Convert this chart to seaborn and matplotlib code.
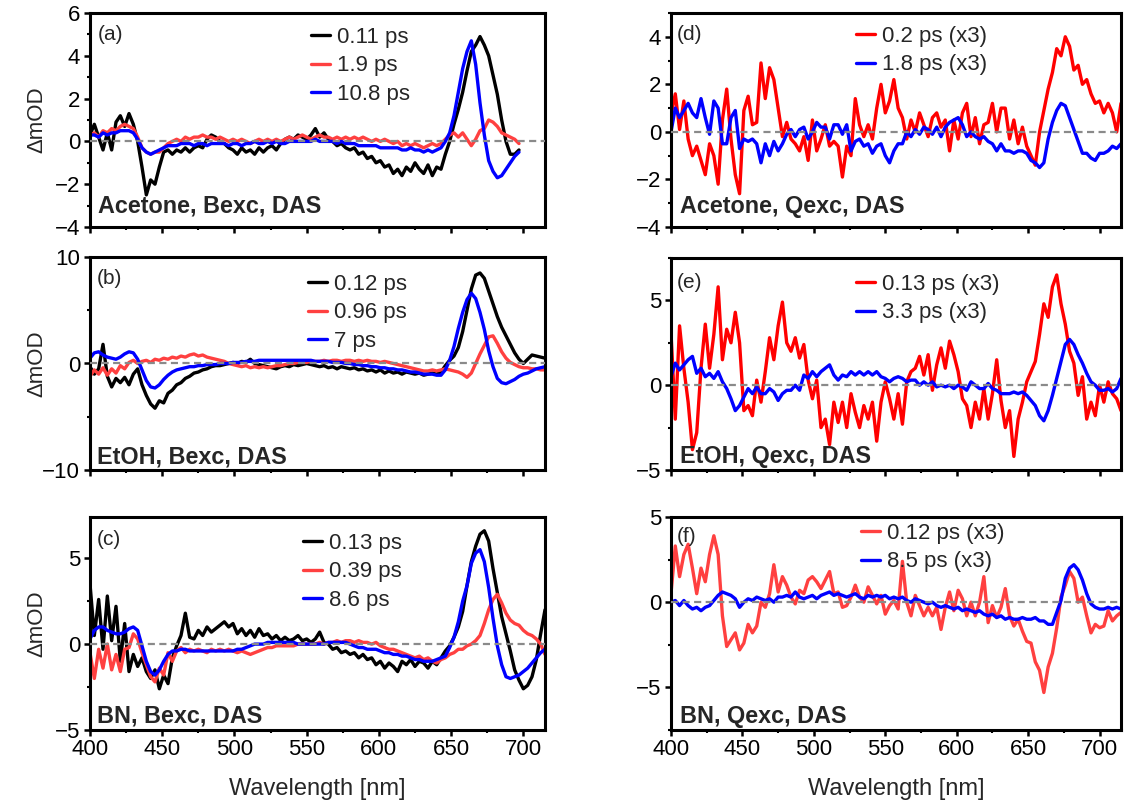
import numpy as np
import matplotlib
matplotlib.use("Agg")
import matplotlib.pyplot as plt
from matplotlib.ticker import MultipleLocator
import seaborn as sns

# ---------------------------------------------------------------------------
# Wavelength sampling (nm)
# ---------------------------------------------------------------------------
WL = np.arange(400, 716, 3)      # 400 ... 715 nm
WL_A = np.arange(400, 698, 3)    # 400 ... 697 nm (acetone, Bexc)

# ---------------------------------------------------------------------------
# Decay-associated spectra, dmOD
# ---------------------------------------------------------------------------
# (a) Acetone, Bexc
A_011 = [0.3, 0.8, 0.2, -0.4, 0.4, -0.4, 0.9, 1.2, 0.7, 1.3,
         0.8, 0.0, -1.2, -2.5, -1.8, -2.0, -1.2, -0.5, -0.4, -0.6,
         -0.4, -0.5, -0.3, -0.5, -0.3, -0.2, -0.3, 0.1, 0.3, 0.2,
         0.0, -0.1, -0.3, -0.4, -0.6, -0.3, -0.5, -0.4, -0.6, -0.3,
         -0.5, -0.3, -0.2, -0.4, -0.1, 0.1, 0.2, 0.1, 0.3, 0.2,
         0.1, 0.3, 0.6, 0.2, 0.4, 0.1, 0.0, -0.2, -0.1, -0.3,
         -0.4, -0.3, -0.6, -0.5, -0.8, -0.7, -1.0, -0.9, -1.2, -1.1,
         -1.5, -1.3, -1.6, -1.2, -1.4, -1.0, -1.3, -1.5, -1.1, -1.6,
         -1.2, -1.3, -0.6, 0.0, 0.8, 1.5, 2.3, 3.3, 4.2, 4.5,
         4.9, 4.5, 4.0, 3.1, 2.2, 1.0, 0.0, -0.6, -0.6, -0.4]
A_19 = [0.3, 0.4, 0.2, 0.5, 0.4, 0.6, 0.5, 0.7, 0.8, 0.7,
        0.6, 0.2, -0.3, -0.5, -0.6, -0.5, -0.5, -0.3, -0.1, 0.0,
        0.1, 0.0, 0.2, 0.1, 0.2, 0.2, 0.3, 0.2, 0.2, 0.1,
        0.2, 0.1, 0.0, 0.1, 0.0, 0.1, 0.0, -0.1, 0.0, 0.1,
        0.0, 0.1, 0.0, 0.1, 0.0, 0.1, 0.2, 0.1, 0.2, 0.3,
        0.2, 0.1, 0.2, 0.3, 0.2, 0.2, 0.1, 0.2, 0.1, 0.2,
        0.1, 0.2, 0.1, 0.2, 0.1, 0.0, 0.1, 0.0, 0.1, 0.0,
        -0.1, 0.0, -0.2, -0.1, -0.2, -0.1, -0.2, -0.3, -0.2, -0.1,
        -0.2, -0.1, 0.1, 0.3, 0.4, 0.2, 0.4, 0.1, -0.2, 0.1,
        0.5, 0.6, 1.0, 0.9, 0.7, 0.4, 0.3, 0.2, 0.1, -0.1]
A_108 = [0.3, 0.3, 0.2, 0.4, 0.3, 0.4, 0.4, 0.5, 0.5, 0.5,
         0.4, 0.1, -0.3, -0.5, -0.6, -0.5, -0.4, -0.3, -0.2, -0.2,
         -0.2, -0.1, -0.1, -0.1, -0.2, -0.1, -0.1, -0.2, -0.1, -0.1,
         -0.1, -0.1, -0.2, -0.1, -0.1, -0.2, -0.1, -0.1, 0.0, -0.1,
         -0.1, 0.0, -0.1, 0.0, -0.1, -0.1, 0.0, 0.0, 0.0, 0.0,
         0.0, 0.0, 0.1, 0.0, 0.0, 0.0, 0.0, -0.1, 0.0, -0.1,
         -0.1, -0.1, -0.2, -0.2, -0.2, -0.2, -0.2, -0.3, -0.3, -0.3,
         -0.3, -0.3, -0.4, -0.4, -0.3, -0.4, -0.4, -0.5, -0.4, -0.5,
         -0.4, -0.3, 0.0, 0.4, 1.2, 2.3, 3.4, 4.2, 4.7, 3.6,
         1.8, 0.3, -0.9, -1.4, -1.7, -1.6, -1.3, -1.0, -0.7, -0.5]

# (b) EtOH, Bexc
B_012 = [-0.3, -1.0, -0.5, 1.8, -1.2, -2.2, -1.4, -1.8, -1.3, -2.0,
         -1.0, -0.5, -2.0, -3.0, -3.8, -4.2, -3.5, -3.7, -2.8, -2.5,
         -2.0, -1.8, -1.4, -1.2, -0.9, -0.8, -0.6, -0.5, -0.3, -0.2,
         -0.2, -0.1, 0.0, 0.1, 0.0, 0.2, 0.1, 0.4, 0.0, -0.1,
         -0.2, -0.3, -0.4, -0.5, -0.3, -0.2, -0.3, -0.1, -0.2, -0.1,
         0.0, -0.1, -0.2, -0.3, -0.2, -0.4, -0.3, -0.5, -0.3, -0.4,
         -0.5, -0.4, -0.6, -0.5, -0.7, -0.6, -0.8, -0.6, -0.9, -0.7,
         -0.9, -0.8, -1.0, -0.8, -0.9, -1.0, -0.9, -1.1, -1.0, -0.9,
         -1.0, -0.8, -0.2, 0.3, 0.7, 1.5, 3.0, 5.0, 7.0, 8.3,
         8.5, 8.0, 6.8, 5.6, 4.4, 3.4, 2.6, 1.8, 1.0, 0.4,
         0.0, 0.4, 0.8, 0.7, 0.6, 0.5]
B_096 = [-1.2, -0.6, -1.0, -0.4, -1.1, -0.5, -0.9, -0.2, -0.5, 0.1,
         0.3, 0.0, 0.2, 0.3, 0.1, 0.4, 0.3, 0.5, 0.4, 0.6,
         0.5, 0.7, 0.6, 0.8, 0.9, 0.7, 0.8, 0.6, 0.5, 0.4,
         0.3, 0.2, 0.0, -0.1, -0.2, -0.3, -0.2, -0.4, -0.3, -0.4,
         -0.3, -0.4, -0.3, -0.2, -0.2, -0.1, 0.0, 0.0, 0.1, 0.1,
         0.1, 0.2, 0.2, 0.2, 0.3, 0.2, 0.3, 0.3, 0.2, 0.3,
         0.3, 0.2, 0.3, 0.2, 0.3, 0.2, 0.2, 0.1, 0.2, 0.1,
         0.0, -0.1, -0.2, -0.3, -0.4, -0.5, -0.6, -0.7, -0.7, -0.6,
         -0.7, -0.6, -0.5, -0.6, -0.7, -0.8, -1.0, -1.3, -0.9, 0.0,
         0.9, 1.7, 2.5, 2.6, 1.9, 1.1, 0.5, 0.1, -0.1, -0.3,
         -0.4, -0.4, -0.5, -0.5, -0.6, -0.6]
B_7 = [0.5, 1.0, 1.1, 0.8, 0.6, 0.5, 0.4, 0.6, 0.9, 1.1,
       1.0, 0.4, -0.6, -1.6, -2.2, -2.3, -2.0, -1.5, -1.1, -0.8,
       -0.6, -0.5, -0.4, -0.3, -0.3, -0.2, -0.2, -0.1, -0.1, -0.1,
       0.0, 0.0, 0.0, 0.1, 0.1, 0.1, 0.2, 0.2, 0.2, 0.3,
       0.3, 0.3, 0.3, 0.3, 0.3, 0.3, 0.3, 0.3, 0.3, 0.3,
       0.3, 0.3, 0.2, 0.2, 0.2, 0.2, 0.1, 0.1, 0.1, 0.0,
       0.0, -0.1, -0.1, -0.2, -0.2, -0.3, -0.3, -0.4, -0.4, -0.5,
       -0.5, -0.6, -0.6, -0.7, -0.8, -0.8, -0.9, -1.0, -1.0, -1.0,
       -1.1, -1.1, -0.6, 0.3, 1.6, 3.3, 4.8, 6.0, 6.6, 6.1,
       4.8, 3.2, 1.2, -0.3, -1.4, -1.8, -1.9, -1.7, -1.5, -1.2,
       -1.0, -0.9, -0.7, -0.5, -0.4, -0.3]

# (c) BN, Bexc
C_013 = [3.5, 0.5, 2.6, -0.3, 2.8, 0.2, 2.2, -1.0, 1.2, -1.6,
         -0.6, -1.3, -0.8, -1.6, -2.0, -1.5, -2.6, -1.8, -2.3, -0.8,
         -0.1, 0.5, 1.8, 0.4, 0.3, 0.8, 0.5, 1.0, 0.7, 0.9,
         1.1, 1.3, 1.0, 1.2, 0.6, 0.9, 0.5, 0.8, 0.4, 0.9,
         0.5, 0.6, 0.3, 0.5, 0.2, 0.4, 0.2, 0.3, 0.5, 0.2,
         0.3, 0.1, 0.3, 0.7, 0.1, 0.0, -0.3, -0.2, -0.5, -0.4,
         -0.6, -0.5, -0.8, -0.6, -0.9, -0.8, -1.2, -1.0, -1.4, -1.1,
         -1.3, -1.6, -1.0, -1.2, -0.9, -1.3, -1.0, -1.1, -1.4, -1.0,
         -1.2, -0.8, -0.4, -0.1, 0.4, 1.0, 1.9, 3.4, 4.8, 5.7,
         6.4, 6.6, 6.0, 4.4, 3.0, 1.6, 0.6, -0.4, -1.5, -2.1,
         -2.6, -2.4, -1.9, -0.9, 0.6, 2.0]
C_039 = [-0.5, -2.0, -0.3, -1.4, 0.0, -1.5, -0.6, -1.6, -0.3, -0.2,
         0.6, 0.3, -0.5, -1.2, -1.9, -2.2, -1.4, -1.8, -0.5, -1.0,
         -0.4, -0.2, -0.5, -0.3, -0.4, -0.3, -0.4, -0.5, -0.3, -0.4,
         -0.3, -0.4, -0.3, -0.4, -0.5, -0.4, -0.5, -0.6, -0.5, -0.4,
         -0.3, -0.2, -0.2, -0.1, -0.1, -0.1, -0.1, -0.1, 0.0, 0.0,
         0.0, 0.0, 0.0, 0.1, 0.0, 0.1, 0.1, 0.2, 0.1, 0.2,
         0.2, 0.1, 0.2, 0.1, 0.1, 0.0, 0.1, -0.1, -0.2, -0.3,
         -0.3, -0.4, -0.5, -0.6, -0.7, -0.8, -0.7, -0.9, -0.8, -1.0,
         -1.1, -0.9, -0.8, -0.6, -0.5, -0.3, -0.3, -0.1, 0.0, 0.2,
         0.5, 1.2, 2.0, 2.6, 2.9, 2.4, 1.8, 1.4, 1.2, 1.1,
         0.8, 0.6, 0.5, 0.3, 0.0, -0.6]
C_86 = [0.3, 0.8, 1.0, 1.0, 0.8, 0.7, 0.6, 0.6, 0.7, 0.9,
        1.0, 0.8, -0.1, -1.0, -1.6, -1.8, -1.5, -1.0, -0.6, -0.4,
        -0.4, -0.3, -0.3, -0.4, -0.4, -0.4, -0.4, -0.4, -0.4, -0.4,
        -0.4, -0.4, -0.4, -0.4, -0.3, -0.3, -0.2, -0.1, 0.0, 0.0,
        0.0, 0.1, 0.1, 0.1, 0.1, 0.1, 0.1, 0.1, 0.0, 0.0,
        0.0, 0.0, 0.0, 0.0, 0.0, 0.1, 0.1, 0.1, 0.1, 0.1,
        0.0, -0.1, -0.2, -0.2, -0.3, -0.3, -0.3, -0.4, -0.5, -0.5,
        -0.6, -0.6, -0.7, -0.7, -0.8, -0.9, -0.9, -1.0, -1.0, -1.0,
        -0.9, -0.8, -0.7, -0.2, 0.4, 1.3, 2.5, 3.4, 4.7, 5.3,
        5.5, 4.8, 3.3, 1.5, -0.1, -1.2, -1.9, -2.0, -1.9, -1.8,
        -1.6, -1.4, -1.1, -0.8, -0.5, -0.3]

# (d) Acetone, Qexc (both scaled x3)
D_02 = [0.7, 1.6, 0.1, 1.3, -0.3, -1.0, -0.6, -1.2, -1.8, -0.5,
        -1.0, -2.2, 0.5, 1.8, -0.3, -1.8, -2.6, 0.9, 1.5, 0.3,
        0.4, 2.9, 1.4, 2.7, 2.2, 1.0, -0.2, 0.4, -0.3, -0.5,
        -0.8, -0.2, -1.2, 0.5, -0.8, -0.3, 0.3, -0.6, -0.4, -0.6,
        -1.9, -0.6, -1.0, 1.4, 0.3, -0.2, 0.3, -0.3, 1.0, 2.0,
        0.8, 1.3, 2.2, 1.0, 0.6, -0.3, 0.5, 0.0, 0.8, 0.3,
        -0.2, 0.6, 0.8, 0.2, 0.5, -0.8, 0.5, -0.3, 0.8, 1.2,
        -0.2, 0.6, -0.5, 0.3, 0.4, 1.2, 0.0, 1.0, 1.0, -0.3,
        0.5, -0.5, 0.2, -0.6, -1.0, -1.4, 0.0, 0.9, 1.8, 2.5,
        3.5, 3.2, 4.0, 3.6, 2.6, 2.8, 2.0, 2.2, 1.6, 1.2,
        1.3, 0.8, 1.2, 0.8, 0.0, 1.2]
D_18 = [0.0, 1.0, 0.6, 0.9, 1.2, 0.8, 0.6, 1.4, 0.6, -0.1,
        1.3, 1.0, -0.5, -0.5, 0.6, 0.9, -0.7, -0.3, -0.4, -0.3,
        -0.5, -1.3, -0.5, -1.0, -0.4, -0.8, -0.5, -0.1, 0.1, -0.2,
        0.1, 0.2, -0.3, 0.0, 0.4, 0.2, 0.2, -0.3, 0.3, 0.3,
        -0.1, 0.3, -0.8, -0.4, -0.3, -0.6, -0.5, -0.9, -0.6, -0.5,
        -1.0, -1.3, -0.8, -0.5, -0.5, 0.0, -0.2, 0.1, -0.1, 0.2,
        0.1, -0.1, 0.2, -0.2, 0.2, 0.4, 0.5, 0.6, 0.3, -0.2,
        0.0, -0.2, -0.3, -0.2, -0.4, -0.5, -0.8, -0.5, -0.8, -0.8,
        -0.9, -0.8, -0.8, -0.9, -1.2, -1.3, -1.5, -1.3, -0.3, 0.4,
        0.9, 1.2, 1.1, 0.6, 0.1, -0.4, -0.9, -0.9, -1.1, -1.2,
        -0.9, -0.9, -0.8, -0.6, -0.7, -0.5]

# (e) EtOH, Qexc (both scaled x3)
E_013 = [3.1, -2.0, 3.5, 1.0, -1.0, -3.8, -2.8, 1.0, 3.6, 1.0,
         3.0, 5.8, 1.5, 3.3, 2.5, 4.3, 2.5, -1.5, -1.2, -1.8,
         0.3, -1.0, 0.8, 2.8, 1.5, 3.5, 4.9, 2.5, 2.0, 2.8,
         1.6, 2.4, 0.3, -0.8, 0.3, -2.5, -2.0, -3.5, -1.0, -2.2,
         -1.0, -2.5, -0.5, -1.6, -2.5, -1.2, -2.0, -1.0, -3.3, -1.0,
         0.2, -0.8, -2.0, -0.5, -2.3, 0.2, 0.8, 1.0, 1.7, 0.6,
         1.8, -0.3, 1.2, 2.2, 1.0, 2.6, 1.8, 0.8, -0.8, -1.2,
         -2.5, -1.0, -2.0, -0.2, -2.0, -0.5, 1.5, -0.9, -2.5, -1.5,
         -4.2, -2.0, -1.0, 0.2, 0.8, 1.4, 3.0, 4.8, 4.0, 5.8,
         6.5, 4.8, 3.6, 2.0, 1.3, -0.6, 0.5, -2.0, -1.0, -1.8,
         0.0, -1.0, 0.2, -0.5, -0.8, -1.5]
E_33 = [0.5, 1.3, 0.9, 1.2, 1.5, 1.7, 0.7, 1.0, 0.5, 0.7,
        0.4, 0.8, 0.2, -0.2, -0.8, -1.5, -1.2, -0.7, -0.2, -0.5,
        -0.1, -0.5, -0.5, -0.2, -0.4, -0.9, -0.5, -0.3, -0.3, 0.0,
        -0.3, 0.6, 0.4, 0.8, 0.5, 0.8, 1.0, 1.2, 0.6, 0.3,
        0.6, 0.5, 0.8, 0.6, 0.8, 0.6, 0.8, 0.6, 0.8, 0.5,
        0.4, 0.2, 0.4, 0.5, 0.4, 0.2, 0.3, 0.3, 0.0, 0.2,
        0.0, 0.2, -0.1, 0.0, -0.1, 0.0, -0.2, 0.0, -0.1, -0.3,
        0.2, 0.0, -0.2, -0.2, 0.1, -0.2, -0.3, -0.5, -0.5, -0.5,
        -0.4, -0.5, -0.4, -0.6, -0.9, -1.2, -1.8, -2.1, -1.5, -0.6,
        0.4, 1.4, 2.4, 2.7, 2.4, 1.8, 1.3, 0.7, 0.2, 0.0,
        -0.3, -0.3, -0.2, -0.4, -0.2, 0.4]

# (f) BN, Qexc (both scaled x3)
F_012 = [0.5, 3.3, 1.5, 2.8, 3.4, 2.0, 0.5, 2.0, 1.2, 2.8,
         3.9, 2.8, -0.8, -2.6, -2.2, -1.8, -2.8, -2.4, -1.3, -1.8,
         -1.4, 0.0, -0.3, 0.5, 2.2, 0.6, 1.5, 1.0, 0.3, -0.1,
         0.7, 0.5, 1.3, 1.5, 1.2, 0.8, 1.3, 1.8, 0.5, 0.6,
         -0.3, -0.2, 0.3, 1.0, 0.3, 0.0, 0.9, 0.4, -0.1, 0.4,
         -0.7, -0.2, 0.1, -0.4, 2.4, 0.0, -0.8, 0.4, -0.2, -0.8,
         -0.3, -0.8, -0.3, -1.6, -0.3, 0.6, -0.5, 0.7, 0.2, -0.8,
         0.0, -0.8, 0.0, 1.5, -1.2, -0.2, -0.9, -0.3, 0.8, -0.8,
         -1.4, -1.0, -1.7, -2.3, -2.4, -3.5, -4.0, -5.3, -3.8, -3.0,
         -1.5, 0.3, 1.0, 1.8, 1.4, 0.0, 0.3, -0.8, -1.8, -1.3,
         -1.5, -1.4, -0.5, -1.1, -0.8, -0.6]
F_85 = [0.0, 0.1, -0.2, 0.1, -0.2, -0.4, -0.3, -0.5, -0.3, -0.2,
        0.1, 0.4, 0.6, 0.5, 0.4, 0.2, -0.3, 0.0, 0.2, 0.1,
        0.3, 0.2, 0.1, 0.2, 0.0, 0.3, 0.3, 0.4, 0.3, 0.6,
        0.3, 0.2, 0.3, 0.4, 0.2, 0.4, 0.5, 0.6, 0.4, 0.5,
        0.4, 0.3, 0.4, 0.5, 0.3, 0.2, 0.4, 0.3, 0.4, 0.3,
        0.4, 0.2, 0.3, 0.2, 0.3, 0.1, 0.0, 0.2, 0.1, 0.0,
        -0.1, 0.0, -0.2, -0.3, -0.2, -0.3, -0.4, -0.3, -0.5, -0.4,
        -0.5, -0.6, -0.5, -0.7, -0.8, -0.7, -0.9, -0.8, -1.0, -0.9,
        -1.0, -1.0, -0.9, -1.0, -1.0, -0.9, -1.1, -1.1, -1.3, -1.3,
        -0.6, 0.1, 1.4, 2.0, 2.2, 1.9, 1.3, 0.5, -0.1, -0.3,
        -0.4, -0.4, -0.3, -0.4, -0.3, -0.4]

# Legend labels and panel texts
TAGS = ["(a)", "(b)", "(c)", "(d)", "(e)", "(f)"]
NOTES = ["Acetone, Bexc, DAS", "EtOH, Bexc, DAS", "BN, Bexc, DAS",
         "Acetone, Qexc, DAS", "EtOH, Qexc, DAS", "BN, Qexc, DAS"]
LABELS = [["0.11 ps", "1.9 ps", "10.8 ps"],
          ["0.12 ps", "0.96 ps", "7 ps"],
          ["0.13 ps", "0.39 ps", "8.6 ps"],
          ["0.2 ps (x3)", "1.8 ps (x3)"],
          ["0.13 ps (x3)", "3.3 ps (x3)"],
          ["0.12 ps (x3)", "8.5 ps (x3)"]]

# ---------------------------------------------------------------------------
# Styling
# ---------------------------------------------------------------------------
BLACK = "#000000"
RED_SOFT = "#FF4040"
RED = "#FF0000"
BLUE = "#0000FF"
LW = 2.4

sns.set_theme(style="ticks")
plt.rcParams.update({
    "font.family": ["Liberation Sans", "DejaVu Sans"],
    "axes.linewidth": 2.2,
    "axes.edgecolor": "black",
    "xtick.color": "black", "ytick.color": "black",
    "xtick.labelcolor": "black", "ytick.labelcolor": "black",
    "xtick.direction": "out", "ytick.direction": "out",
    "xtick.major.size": 4.0, "ytick.major.size": 4.0,
    "xtick.minor.size": 2.5, "ytick.minor.size": 2.5,
    "xtick.major.width": 1.8, "ytick.major.width": 1.8,
    "xtick.minor.width": 1.5, "ytick.minor.width": 1.5,
    "xtick.labelsize": 16, "ytick.labelsize": 16,
    "xtick.major.pad": 2.5, "ytick.major.pad": 3.0,
})

W, H = 1127, 805
fig = plt.figure(figsize=(W / 100, H / 100), dpi=100)


def fx(px):
    return px / W


def fy(py):
    return 1 - py / H


# panel frames in pixels: left, top, right, bottom
PANELS = [
    dict(box=(90, 13, 545, 227), x=WL_A, ys=[A_011, A_19, A_108],
         colors=[BLACK, RED_SOFT, BLUE], ylim=(-4, 6), major=2, minor=1,
         leg=(311, 27), tag=(98, 35), note=(98, 213)),
    dict(box=(90, 257, 545, 470), x=WL, ys=[B_012, B_096, B_7],
         colors=[BLACK, RED_SOFT, BLUE], ylim=(-10, 10), major=10, minor=5,
         leg=(308, 274), tag=(97, 278), note=(97, 463)),
    dict(box=(90, 517, 545, 730), x=WL, ys=[C_013, C_039, C_86],
         colors=[BLACK, RED_SOFT, BLUE], ylim=(-5, 7.4), major=5, minor=2.5,
         leg=(303, 533), tag=(97, 539), note=(97, 722)),
    dict(box=(671, 13, 1121, 227), x=WL, ys=[D_02, D_18],
         colors=[RED, BLUE], ylim=(-4, 5), major=2, minor=1,
         leg=(856, 26), tag=(677, 34), note=(680, 213)),
    dict(box=(671, 258, 1121, 470), x=WL, ys=[E_013, E_33],
         colors=[RED, BLUE], ylim=(-5, 7.5), major=5, minor=2.5,
         leg=(856, 274), tag=(677, 282), note=(680, 463)),
    dict(box=(671, 517, 1121, 730), x=WL, ys=[F_012, F_85],
         colors=[RED_SOFT, BLUE], ylim=(-7.5, 5), major=5, minor=2.5,
         leg=(861, 523), tag=(677, 537), note=(680, 723)),
]

for i, p in enumerate(PANELS):
    l, t, r, b = p["box"]
    ax = fig.add_axes([fx(l), fy(b), fx(r) - fx(l), (b - t) / H])

    for vals, col, lab in zip(p["ys"], p["colors"], LABELS[i]):
        sns.lineplot(x=p["x"], y=np.asarray(vals), ax=ax, color=col,
                     linewidth=LW, label=lab, estimator=None, sort=False,
                     legend=False)

    ax.axhline(0, color="#8a8a8a", lw=1.6, ls=(0, (3.2, 2.0)), zorder=4)

    ax.set_xlim(400, 715)
    ax.set_ylim(*p["ylim"])
    ax.xaxis.set_major_locator(MultipleLocator(50))
    ax.xaxis.set_minor_locator(MultipleLocator(25))
    ax.yaxis.set_major_locator(MultipleLocator(p["major"]))
    ax.yaxis.set_minor_locator(MultipleLocator(p["minor"]))
    ax.tick_params(which="both", top=False, right=False)
    for s in ax.spines.values():
        s.set_visible(True)
        s.set_color("black")
        s.set_linewidth(2.2)

    ax.set_xlabel("")
    ax.set_ylabel("")
    if i in (2, 5):
        ax.set_xlabel("Wavelength [nm]", fontsize=17)
        ax.xaxis.set_label_coords(0.5, (b - 778) / (b - t))
    else:
        ax.tick_params(axis="x", labelbottom=False)
    if i < 3:
        ax.set_ylabel("ΔmOD", fontsize=16)
        ax.yaxis.set_label_coords((47 - l) / (r - l), 0.5)

    handles = [ln for ln in ax.get_lines() if not ln.get_label().startswith("_")]
    ax.legend(handles=handles, loc="upper left",
              bbox_to_anchor=(fx(p["leg"][0]), fy(p["leg"][1])),
              bbox_transform=fig.transFigure, frameon=False, fontsize=16,
              handlelength=0.85, handletextpad=0.3, labelspacing=0.33,
              borderpad=0, borderaxespad=0)

    fig.text(fx(p["tag"][0]), fy(p["tag"][1]), TAGS[i], fontsize=15,
             ha="left", va="center")
    fig.text(fx(p["note"][0]), fy(p["note"][1]), NOTES[i], fontsize=16.8,
             fontweight="bold", ha="left", va="baseline")

fig.savefig("out.png", dpi=100)
